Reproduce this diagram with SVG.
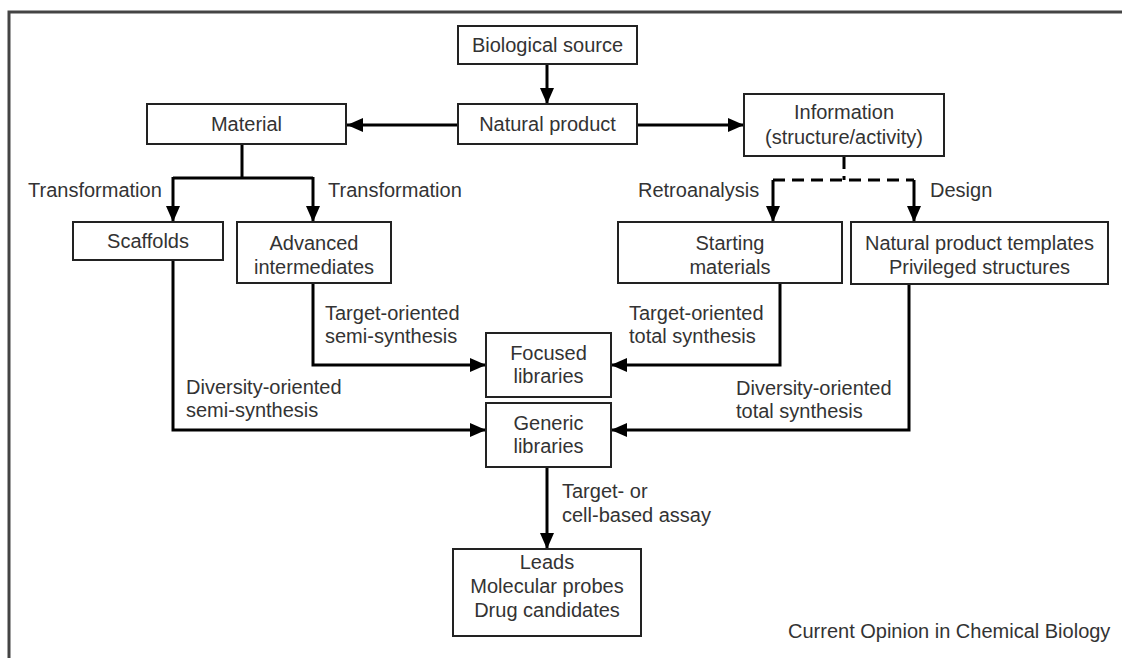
<svg xmlns="http://www.w3.org/2000/svg" width="1122" height="658" viewBox="0 0 1122 658">
<defs>
<marker id="ah" viewBox="0 0 16 14" refX="16" refY="7" markerWidth="16" markerHeight="14" markerUnits="userSpaceOnUse" orient="auto">
<path d="M0,0 L16,7 L0,14 Z" fill="#000"/>
</marker>
<style>
.box{fill:#fff;stroke:#222;stroke-width:2}
.t{font-family:"Liberation Sans",Arial,sans-serif;font-size:20px;fill:#333}
.c{text-anchor:middle}
.ln{fill:none;stroke:#000;stroke-width:3}
.arr{fill:none;stroke:#000;stroke-width:3;marker-end:url(#ah)}
.dash{fill:none;stroke:#000;stroke-width:3;stroke-dasharray:12,7}
</style>
</defs>
<rect width="1122" height="658" fill="#fff"/>
<path d="M9,670 V12 H1130" fill="none" stroke="#444" stroke-width="3"/>

<g id="connectors">
<path class="arr" d="M547,64 V104"/>
<path class="arr" d="M458,125 H347"/>
<path class="arr" d="M637,125 H744"/>
<path class="ln" d="M242,144 V178 M173,178 H313"/>
<path class="arr" d="M173,177 V222"/>
<path class="arr" d="M313,177 V222"/>
<path class="dash" d="M844,157 V180 M773,180 H914"/>
<path class="arr" d="M773,190 V222"/>
<path class="arr" d="M914,190 V222"/>
<path class="dash" d="M773,180 V190 M914,180 V190"/>
<path class="arr" d="M313,283 V365 H486"/>
<path class="arr" d="M173,260 V430 H486"/>
<path class="arr" d="M780,283 V365 H611"/>
<path class="arr" d="M909,284 V430 H611"/>
<path class="arr" d="M547,467 V549"/>
</g>

<g id="biological-source"><rect class="box" x="458" y="26" width="179" height="38"/><text class="t c" x="547.5" y="52">Biological source</text></g>
<g id="natural-product"><rect class="box" x="458" y="104" width="179" height="40"/><text class="t c" x="547.5" y="131">Natural product</text></g>
<g id="material"><rect class="box" x="147" y="104" width="199" height="40"/><text class="t c" x="246.5" y="131">Material</text></g>
<g id="information"><rect class="box" x="744" y="94" width="200" height="62"/><text class="t c" x="844" y="119">Information</text><text class="t c" x="844" y="144">(structure/activity)</text></g>
<g id="scaffolds"><rect class="box" x="73" y="222" width="150" height="38"/><text class="t c" x="148" y="248">Scaffolds</text></g>
<g id="advanced-intermediates"><rect class="box" x="237" y="222" width="154" height="61"/><text class="t c" x="314" y="250">Advanced</text><text class="t c" x="314" y="274">intermediates</text></g>
<g id="starting-materials"><rect class="box" x="618" y="222" width="224" height="61"/><text class="t c" x="730" y="250">Starting</text><text class="t c" x="730" y="274">materials</text></g>
<g id="templates"><rect class="box" x="851" y="222" width="257" height="62"/><text class="t c" x="979.5" y="250">Natural product templates</text><text class="t c" x="979.5" y="274">Privileged structures</text></g>
<g id="focused-libraries"><rect class="box" x="486" y="333" width="125" height="64"/><text class="t c" x="548.5" y="360">Focused</text><text class="t c" x="548.5" y="383">libraries</text></g>
<g id="generic-libraries"><rect class="box" x="486" y="403" width="125" height="64"/><text class="t c" x="548.5" y="430">Generic</text><text class="t c" x="548.5" y="453">libraries</text></g>
<g id="leads"><rect class="box" x="453" y="549" width="188" height="87"/><text class="t c" x="547" y="569">Leads</text><text class="t c" x="547" y="593">Molecular probes</text><text class="t c" x="547" y="617">Drug candidates</text></g>

<g id="labels">
<text class="t" x="28" y="197">Transformation</text>
<text class="t" x="328" y="197">Transformation</text>
<text class="t" x="638" y="197">Retroanalysis</text>
<text class="t" x="930" y="197">Design</text>
<text class="t" x="325" y="320">Target-oriented</text>
<text class="t" x="325" y="343">semi-synthesis</text>
<text class="t" x="629" y="320">Target-oriented</text>
<text class="t" x="629" y="343">total synthesis</text>
<text class="t" x="186" y="394">Diversity-oriented</text>
<text class="t" x="186" y="417">semi-synthesis</text>
<text class="t" x="736" y="395">Diversity-oriented</text>
<text class="t" x="736" y="418">total synthesis</text>
<text class="t" x="562" y="498">Target- or</text>
<text class="t" x="562" y="522">cell-based assay</text>
<text class="t" x="788" y="638">Current Opinion in Chemical Biology</text>
</g>
</svg>
